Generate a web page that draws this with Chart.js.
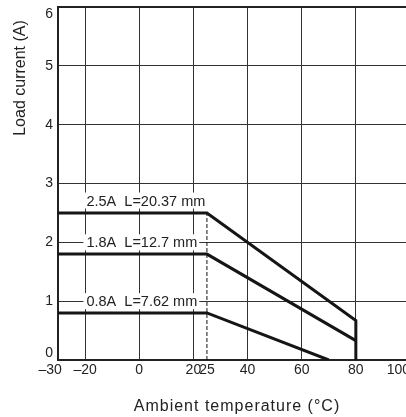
<!DOCTYPE html>
<html>
<head>
<meta charset="utf-8">
<script src="https://cdn.jsdelivr.net/npm/chart.js@4.4.1/dist/chart.umd.min.js"></script>
<style>
  html, body { margin: 0; padding: 0; background: #fff; overflow: hidden; }
  #wrap { width: 412px; height: 417px; }
</style>
</head>
<body>
<div id="wrap"><canvas id="chart"></canvas></div>
<script>
// tick labels
const tempTicks = [-30, -20, 0, 20, 25, 40, 60, 80, 100];
const currentTicks = [0, 1, 2, 3, 4, 5, 6];

// derating curves (ambient temperature in °C, load current in A)
const temps25 = [-30, 25, 80, 80];
const amps25 = [2.5, 2.5, 0.67, 0];
const temps18 = [-30, 25, 80];
const amps18 = [1.8, 1.8, 0.33];
const temps08 = [-30, 25, 70];
const amps08 = [0.8, 0.8, 0];

// 25 °C marker
const markTemps = [25, 25];
const markAmps = [0, 2.5];

const curveNames = ['2.5A  L=20.37 mm', '1.8A  L=12.7 mm', '0.8A  L=7.62 mm'];

const font = "'Liberation Sans', Arial, Helvetica, sans-serif";
const ink = '#222';

function toPoints(xs, ys) {
    return xs.map((x, i) => ({ x: x, y: ys[i] }));
}

function curve(xs, ys) {
    return {
        data: toPoints(xs, ys),
        showLine: true,
        borderColor: '#151515',
        borderWidth: 3,
        borderJoinStyle: 'miter',
        pointRadius: 0,
        fill: false
    };
}

// labels of the curves, white box behind them
const curveLabelPlugin = {
    id: 'curveLabels',
    afterDatasetsDraw(chart, args, opts) {
        const ctx = chart.ctx;
        const xs = chart.scales.x, ys = chart.scales.y;
        ctx.save();
        ctx.font = '14.5px ' + font;
        ctx.textBaseline = 'middle';
        ctx.textAlign = 'left';
        curveNames.forEach((name, i) => {
            const px = xs.getPixelForValue(opts.x);
            const py = ys.getPixelForValue(opts.y[i]);
            const w = ctx.measureText(name).width;
            ctx.fillStyle = '#fff';
            ctx.fillRect(px - 3, py - 8, w + 5, 16);
            ctx.fillStyle = ink;
            ctx.fillText(name, px, py + 1);
        });
        ctx.restore();
    }
};

// axis titles
const axisTitlePlugin = {
    id: 'axisTitles',
    afterDraw(chart) {
        const ctx = chart.ctx;
        ctx.save();
        ctx.fillStyle = ink;
        ctx.textBaseline = 'middle';
        ctx.textAlign = 'center';
        ctx.font = '16px ' + font;
        ctx.letterSpacing = '1px';
        ctx.fillText('Ambient temperature (°C)', 237, 407);
        ctx.letterSpacing = '0px';
        ctx.translate(21, 78);
        ctx.rotate(-Math.PI / 2);
        ctx.fillText('Load current (A)', 0, 0);
        ctx.restore();
    }
};

function tempLabel(v) {
    const s = String(v).replace('-', '\u2013');
    if (v === -30) return s + '    ';   // sits left of the corner
    if (v === 100) return s + '      '; // cut by the right edge
    return s;
}

function currentLabel(v) {
    if (v === 6) return ['', '6'];  // nudged down inside the frame
    if (v === 0) return ['0', ''];  // nudged up off the corner
    return String(v);
}

new Chart(document.getElementById('chart'), {
    type: 'scatter',
    data: {
        datasets: [
            curve(temps25, amps25),
            curve(temps18, amps18),
            curve(temps08, amps08),
            {
                data: toPoints(markTemps, markAmps),
                showLine: true,
                borderColor: '#111',
                borderWidth: 1,
                borderDash: [4, 2],
                pointRadius: 0
            }
        ]
    },
    options: {
        responsive: true,
        maintainAspectRatio: false,
        animation: false,
        layout: { padding: { top: 7, right: 2, left: 0, bottom: 0 } },
        plugins: {
            legend: { display: false },
            tooltip: { enabled: false },
            curveLabels: { x: -19.5, y: [2.71, 2, 1] }
        },
        scales: {
            x: {
                type: 'linear',
                min: -30,
                max: 100,
                afterBuildTicks: (scale) => { scale.ticks = tempTicks.map(v => ({ value: v })); },
                afterFit: (scale) => {
                    scale.height = 57;
                    scale.paddingLeft = 0;
                    scale.paddingRight = 0;
                },
                grid: {
                    drawTicks: false,
                    color: (c) => (c.tick && c.tick.value === 25) ? 'rgba(0,0,0,0)' : '#333',
                    lineWidth: 1
                },
                border: { display: true, color: ink, width: 2 },
                ticks: {
                    autoSkip: false,
                    maxRotation: 0,
                    padding: 2,
                    color: ink,
                    font: { family: font, size: 14 },
                    callback: tempLabel
                }
            },
            y: {
                type: 'linear',
                min: 0,
                max: 6,
                afterBuildTicks: (scale) => { scale.ticks = currentTicks.map(v => ({ value: v })); },
                afterFit: (scale) => {
                    scale.width = 58;
                    scale.paddingTop = 0;
                    scale.paddingBottom = 0;
                },
                grid: {
                    drawTicks: false,
                    color: (c) => (c.tick && c.tick.value === 6) ? ink : '#333',
                    lineWidth: (c) => (c.tick && c.tick.value === 6) ? 2 : 1
                },
                border: { display: true, color: ink, width: 2 },
                ticks: {
                    padding: 5,
                    color: ink,
                    font: { family: font, size: 14, lineHeight: 1 },
                    callback: currentLabel
                }
            }
        }
    },
    plugins: [curveLabelPlugin, axisTitlePlugin]
});
</script>
</body>
</html>
